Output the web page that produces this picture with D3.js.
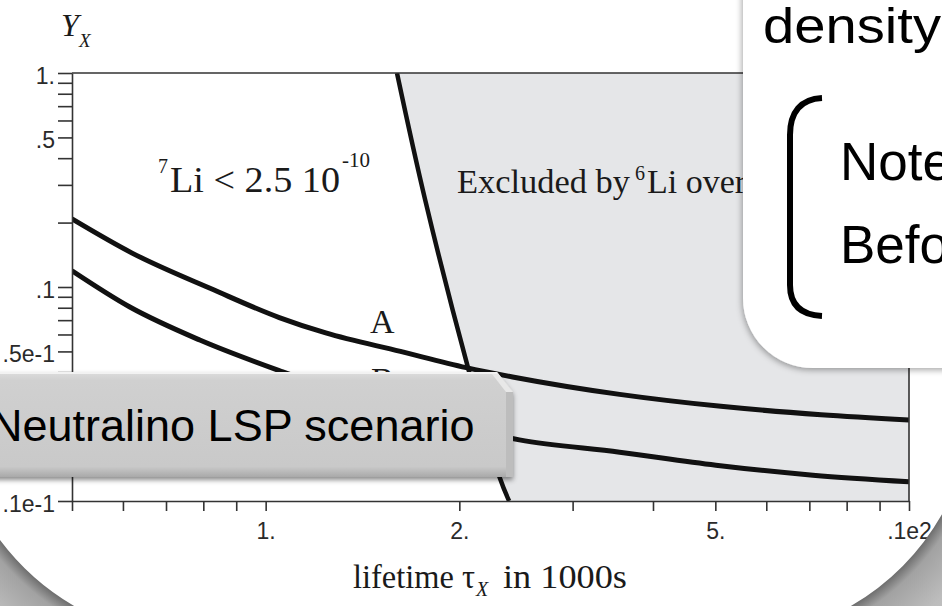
<!DOCTYPE html>
<html><head><meta charset="utf-8">
<script src="https://cdn.jsdelivr.net/npm/d3@7"></script>
<style>html,body{margin:0;padding:0;background:#fff;overflow:hidden}</style>
</head><body>
<svg id="chart" width="942" height="606"></svg>
<script>
// ---- data ----
const xTickValues = [0.5,0.6,0.7,0.8,0.9,1,2,3,4,5,6,7,8,9,10];
const xTickLabels = ["","","","","","1.","2.","","","5.","","","","",".1e2"];
const yTickValues = [0.01,0.02,0.03,0.04,0.05,0.06,0.07,0.08,0.09,0.1,0.2,0.3,0.4,0.5,0.6,0.7,0.8,0.9,1];
const yTickLabels = [".1e-1","","","",".5e-1","","","","",".1","","","",".5","","","","","1."];
const curveA_tau = [0.5,0.62,0.83,1.05,1.24,1.62,2.05,2.42,3.55,5.1,7.3,10];
const curveA_y   = [0.208,0.144,0.097,0.072,0.061,0.050,0.042,0.038,0.0315,0.0277,0.0253,0.0239];
const curveB_tau = [0.5,0.615,0.79,1.063,1.35,1.80,2.48,3.55,5.01,7.09,10];
const curveB_y   = [0.119,0.0806,0.0565,0.0401,0.0313,0.0239,0.0193,0.0169,0.0147,0.0132,0.0123];
const bound_tau  = [1.60,1.77,2.06,2.31,2.39];
const bound_y    = [1.0,0.255,0.0427,0.0129,0.01];

const svg = d3.select("#chart");
const L=72,R=909,T=73,B=501;
const x = d3.scaleLog().domain([0.5,10]).range([L,R]);
const y = d3.scaleLog().domain([0.01,1]).range([B,T]);

const defs = svg.append("defs");
defs.append("clipPath").attr("id","plot").append("rect").attr("x",L).attr("y",T).attr("width",R-L).attr("height",B-T);
const f1 = defs.append("filter").attr("id","sh").attr("x","-20%").attr("y","-20%").attr("width","140%").attr("height","140%");
f1.append("feDropShadow").attr("dx",-1).attr("dy",2).attr("stdDeviation",3).attr("flood-color","#000").attr("flood-opacity",0.35);
const f2 = defs.append("filter").attr("id","sh2").attr("x","-5%").attr("y","-20%").attr("width","110%").attr("height","150%");
f2.append("feDropShadow").attr("dx",0).attr("dy",3).attr("stdDeviation",2.5).attr("flood-color","#000").attr("flood-opacity",0.45);
const g1 = defs.append("linearGradient").attr("id","boxg").attr("x1",0).attr("y1",0).attr("x2",0).attr("y2",1);
g1.append("stop").attr("offset","0%").attr("stop-color","#dcdcdc");
g1.append("stop").attr("offset","8%").attr("stop-color","#d0d0d0");
g1.append("stop").attr("offset","90%").attr("stop-color","#c9c9c9");
g1.append("stop").attr("offset","100%").attr("stop-color","#a9a9a9");
function radial(id,cx,cy){
  const g = defs.append("radialGradient").attr("id",id).attr("gradientUnits","userSpaceOnUse")
    .attr("cx",cx).attr("cy",cy).attr("r",420);
  g.append("stop").attr("offset",250/420).attr("stop-color","#6e6e6e");
  g.append("stop").attr("offset",262/420).attr("stop-color","#a2a2a2");
  g.append("stop").attr("offset",300/420).attr("stop-color","#bdbdbd");
  g.append("stop").attr("offset",1).attr("stop-color","#d2d2d2");
}
radial("cornL",200,390); radial("cornR",725,390);

const plot = svg.append("g").attr("clip-path","url(#plot)");

// excluded region
const bpts = bound_tau.map((t,i)=>[x(t),y(bound_y[i])]);
const bline = d3.line().curve(d3.curveCatmullRom);
plot.append("path")
  .attr("d", bline(bpts) + `L${x(10)},${y(0.01)}L${x(10)},${y(1)}Z`)
  .attr("fill","#e5e6e8");

const line = d3.line().x(d=>x(d[0])).y(d=>y(d[1])).curve(d3.curveMonotoneX);
plot.append("path").datum(curveA_tau.map((t,i)=>[t,curveA_y[i]])).attr("d",line)
  .attr("fill","none").attr("stroke","#111").attr("stroke-width",5);
plot.append("path").datum(curveB_tau.map((t,i)=>[t,curveB_y[i]])).attr("d",line)
  .attr("fill","none").attr("stroke","#111").attr("stroke-width",5);
plot.append("path").attr("d",bline(bpts)).attr("fill","none").attr("stroke","#111").attr("stroke-width",4.5);

// frame
svg.append("path").attr("d",`M${L},${T}H${R}V${B}`).attr("fill","none").attr("stroke","#333").attr("stroke-width",1.6);

// axes
const xa = d3.axisBottom(x).tickValues(xTickValues).tickFormat((d,i)=>xTickLabels[i]).tickSize(10).tickSizeOuter(0).tickPadding(12);
const ya = d3.axisLeft(y).tickValues(yTickValues).tickFormat((d,i)=>yTickLabels[i]).tickSize(14).tickSizeOuter(0).tickPadding(3);
const gx = svg.append("g").attr("transform",`translate(0,${B})`).call(xa);
const gy = svg.append("g").attr("transform",`translate(${L},0)`).call(ya);
[gx,gy].forEach(g=>{
  g.select(".domain").attr("stroke","#333").attr("stroke-width",1.6);
  g.selectAll(".tick line").attr("stroke","#333").attr("stroke-width",1.6);
  g.selectAll("text").attr("font-family","'Liberation Sans',Arial,sans-serif").attr("font-size",23).attr("fill","#2a2a2a");
});
gy.selectAll("text").attr("dy","0.45em");

// chart texts (Times)
const serif = "'Liberation Serif','Times New Roman',serif";
function t(xp,yp,str,size,opts={}){
  const e = svg.append("text").attr("x",xp).attr("y",yp).text(str)
    .attr("font-family",serif).attr("font-size",size).attr("fill","#1a1a1a");
  if(opts.italic) e.attr("font-style","italic");
  if(opts.len) e.attr("textLength",opts.len).attr("lengthAdjust","spacingAndGlyphs");
  return e;
}
t(61,36,"Y",32,{italic:true});
t(79,47,"X",19,{italic:true});
t(158,173,"7",20);
t(170,192,"Li < 2.5 10",35,{len:170});
t(342,167,"-10",22,{len:28});
t(457,193,"Excluded by",34,{len:173});
t(635,180,"6",20);
t(647,193,"Li over",34);
t(370,333,"A",34);
t(371,391,"B",34);
t(353,588,"lifetime τ",33,{len:122});
t(476,596,"X",20,{italic:true});
t(503,588,"in 1000s",33,{len:124});

// slide overlays
const sans = "'Liberation Sans',Arial,sans-serif";
svg.append("path").attr("d","M743,-20V298A70,70 0 0,0 813,368H980V-20Z")
  .attr("fill","#fff").attr("filter","url(#sh)");
svg.append("text").attr("x",763).attr("y",43).text("density").attr("font-family",sans).attr("font-size",50)
  .attr("textLength",178).attr("lengthAdjust","spacingAndGlyphs").attr("fill","#000");
svg.append("path").attr("d","M822,98C801,99 790,112 790,135L790,285C790,304 800,315 822,316")
  .attr("fill","none").attr("stroke","#000").attr("stroke-width",6);
svg.append("text").attr("x",840).attr("y",180).text("Note").attr("font-family",sans).attr("font-size",53).attr("fill","#000");
svg.append("text").attr("x",840).attr("y",263).text("Befo").attr("font-family",sans).attr("font-size",53).attr("fill","#000");

// Neutralino box
svg.append("path").attr("d","M-10,372H497L513,392V477H-10Z").attr("fill","url(#boxg)").attr("filter","url(#sh2)");
svg.append("path").attr("d","M497,372L513,392L506,392L492,374Z").attr("fill","#e8e8e8");
svg.append("path").attr("d","M506,392H513V477H506Z").attr("fill","#bdbdbd");
svg.append("line").attr("x1",-10).attr("x2",497).attr("y1",373).attr("y2",373).attr("stroke","#f2f2f2").attr("stroke-width",2);
svg.append("text").attr("x",-10).attr("y",441).text("Neutralino LSP scenario").attr("font-family",sans).attr("font-size",45).attr("fill","#000");

// bottom corners
const r=250;
const ly = 390+Math.sqrt(r*r-200*200), lx = 200-Math.sqrt(r*r-216*216);
svg.append("path").attr("d",`M0,606L0,${ly}A${r},${r} 0 0,0 ${lx},606Z`).attr("fill","url(#cornL)");
const ry = 390+Math.sqrt(r*r-217*217), rx = 725+Math.sqrt(r*r-216*216);
svg.append("path").attr("d",`M942,${ry}A${r},${r} 0 0,1 ${rx},606L942,606Z`).attr("fill","url(#cornR)");
</script>
</body></html>
